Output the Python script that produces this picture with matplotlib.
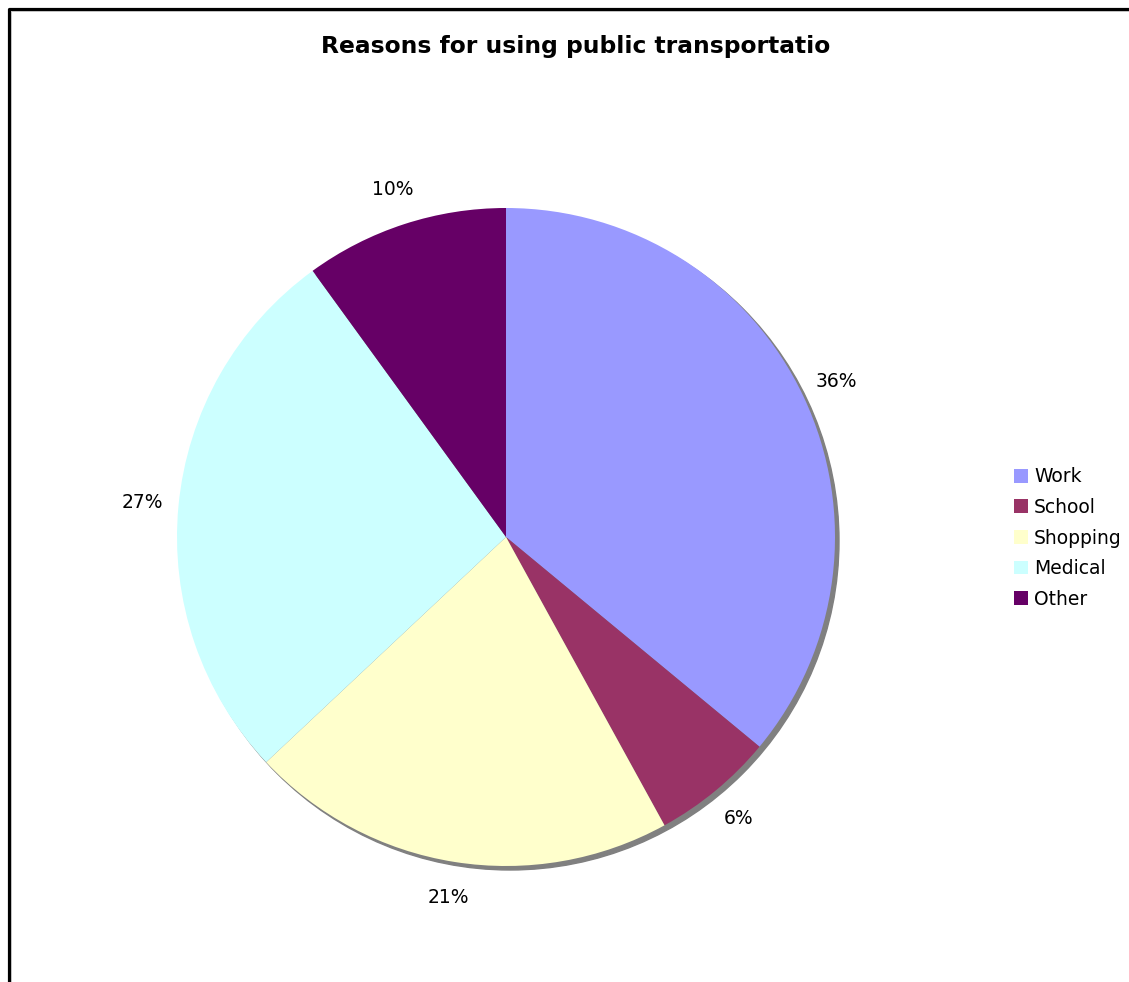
import matplotlib
matplotlib.use("Agg")
import matplotlib.pyplot as plt
from matplotlib.patches import Circle, Patch
from matplotlib.lines import Line2D

# pie data
categories = ["Work", "School", "Shopping", "Medical", "Other"]
shares = [36, 6, 21, 27, 10]
colors = ["#9999ff", "#993366", "#ffffcc", "#ccffff", "#660066"]
title = "Reasons for using public transportatio"

W, H = 1129, 982
fig = plt.figure(figsize=(W / 100, H / 100), dpi=100)
fig.patch.set_facecolor("white")

# axes in pixel units, y pointing up
ax = fig.add_axes([0, 0, 1, 1])
ax.set_xlim(0, W)
ax.set_ylim(0, H)
ax.set_aspect("equal")
ax.axis("off")

cx, cy, r = 506, H - 537, 329

# drop shadow under the pie
ax.add_patch(Circle((cx + 4, cy - 4), r, color="#808080", zorder=1))

wedges, texts, autotexts = ax.pie(
    shares, colors=colors, center=(cx, cy), radius=r,
    startangle=90, counterclock=False,
    autopct="%1.0f%%", pctdistance=1.11,
    textprops=dict(fontsize=13.5, color="black", family="DejaVu Sans"),
    wedgeprops=dict(linewidth=0, zorder=2),
    frame=True,
)
ax.set_xlim(0, W)
ax.set_ylim(0, H)
ax.axis("off")

fig.text(576 / W, 1 - 47 / H, title, ha="center", va="center",
         fontsize=16.8, fontweight="bold", family="DejaVu Sans")

handles = [Patch(facecolor=c, edgecolor="none") for c in colors]
fig.legend(handles, categories, loc="center left",
           bbox_to_anchor=(1005 / W, 1 - 538 / H),
           frameon=False, fontsize=13.5,
           handlelength=0.75, handleheight=0.75,
           handletextpad=0.3, labelspacing=0.62, borderpad=0)

# chart border (left and top edges)
fig.add_artist(Line2D([8.5 / W, 8.5 / W, 1], [0, 1 - 8.5 / H, 1 - 8.5 / H],
                      transform=fig.transFigure, color="black", linewidth=2.3))
fig.add_artist(Line2D([10.5 / W, 10.5 / W, 1], [0, 1 - 10.5 / H, 1 - 10.5 / H],
                      transform=fig.transFigure, color="#c0c0c0", linewidth=0.7))

fig.savefig("out.png", dpi=100)
